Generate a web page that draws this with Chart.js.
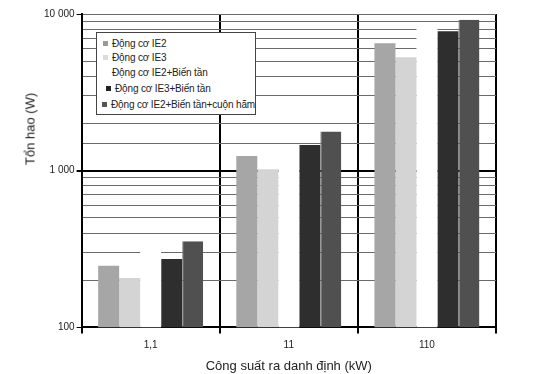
<!DOCTYPE html>
<html>
<head>
<meta charset="utf-8">
<script src="https://cdn.jsdelivr.net/npm/chart.js@4/dist/chart.umd.min.js"></script>
<style>
    body { margin: 0; background: #fff; }
    #wrap { position: relative; width: 553px; height: 374px; font-family: 'Liberation Sans', Arial, sans-serif; }
    #yTitle {
        position: absolute; left: 30px; top: 129px;
        transform: translate(-50%, -50%) rotate(-90deg);
        font-size: 13px; color: #222; white-space: nowrap;
    }
    #legend {
        position: absolute; left: 96px; top: 32px; width: 160px; height: 83px;
        background: #fff; border: 1px solid #444; box-sizing: border-box;
        font-size: 10px; letter-spacing: -0.15px; color: #222;
    }
    #legend .item { position: absolute; white-space: nowrap; line-height: 12px; }
    #legend .box { display: inline-block; width: 5px; height: 5px; margin-right: 4px; vertical-align: 1px; }
</style>
</head>
<body>
<div id="wrap">
    <canvas id="lossChart" width="553" height="374"></canvas>
    <div id="yTitle">Tổn hao (W)</div>
    <div id="legend"></div>
</div>
<script>
'use strict';

// ============================================================================
// Data
// ============================================================================

const categories = ['1,1', '11', '110'];
const seriesLabels = [
    'Động cơ IE2',
    'Động cơ IE3',
    'Động cơ IE2+Biến tần',
    'Động cơ IE3+Biến tần',
    'Động cơ IE2+Biến tần+cuộn hãm'
];
const lossIE2 = [247, 1240, 6500];
const lossIE3 = [207, 1020, 5300];
const lossIE2Vfd = [330, 1450, 8500];
const lossIE3Vfd = [273, 1460, 7750];
const lossIE2VfdChoke = [355, 1780, 9200];
const yMajorTicks = [100, 1000, 10000];

// ============================================================================
// Colors
// ============================================================================

const seriesColors = ['#a6a6a6', '#d4d4d4', '#ffffff', '#2e2e2e', '#505050'];
const legendMarkColors = ['#9a9a9a', '#dcdcdc', '#ffffff', '#222222', '#555555'];

function formatThousands(value) {
    return String(value).replace(/\B(?=(\d{3})+(?!\d))/g, ' ');
}

// ============================================================================
// Chart
// ============================================================================

const seriesValues = [lossIE2, lossIE3, lossIE2Vfd, lossIE3Vfd, lossIE2VfdChoke];

const datasets = seriesValues.map((values, i) => ({
    label: seriesLabels[i],
    data: values,
    backgroundColor: seriesColors[i],
    borderColor: i === 4 ? '#8a8a8a' : seriesColors[i],
    borderWidth: i === 4 ? { left: 1, top: 0, right: 0, bottom: 0 } : 0,
    borderSkipped: false,
    barPercentage: 1.0,
    categoryPercentage: 0.76
}));

new Chart(document.getElementById('lossChart'), {
    type: 'bar',
    data: { labels: categories, datasets: datasets },
    options: {
        responsive: false,
        animation: false,
        layout: { padding: { left: 42, right: 57, top: 14, bottom: 0 } },
        plugins: {
            legend: { display: false },
            tooltip: { enabled: false }
        },
        scales: {
            x: {
                grid: {
                    offset: true,
                    color: ctx => ctx.index === categories.length ? '#777' : '#000',
                    lineWidth: ctx => ctx.index === categories.length ? 1 : 2,
                    tickLength: 6,
                    tickColor: '#000'
                },
                border: { color: '#000', width: 2 },
                ticks: {
                    color: '#222',
                    font: { family: "'Liberation Sans', Arial, sans-serif", size: 10 },
                    padding: 6
                },
                title: {
                    display: true,
                    text: 'Công suất ra danh định (kW)',
                    color: '#222',
                    font: { family: "'Liberation Sans', Arial, sans-serif", size: 13 },
                    padding: { top: 1, bottom: 0 }
                }
            },
            y: {
                type: 'logarithmic',
                min: 100,
                max: 10000,
                grid: {
                    color: ctx => {
                        const v = ctx.tick && ctx.tick.value;
                        if (v === 1000) return '#000';
                        return '#6a6a6a';
                    },
                    lineWidth: ctx => (ctx.tick && ctx.tick.value === 1000) ? 2 : 1,
                    tickLength: 5,
                    tickColor: ctx => yMajorTicks.includes(ctx.tick && ctx.tick.value) ? '#000' : 'rgba(0,0,0,0)'
                },
                border: { color: '#000', width: 2 },
                ticks: {
                    autoSkip: false,
                    color: '#222',
                    padding: 2,
                    font: { family: "'Liberation Sans', Arial, sans-serif", size: 10 },
                    callback: value => yMajorTicks.includes(value) ? formatThousands(value) : ''
                }
            }
        }
    }
});

// ============================================================================
// Legend (drawn over the plot area like the original)
// ============================================================================

const legendRows = [
    { top: 5, left: 6 },
    { top: 19, left: 6 },
    { top: 34, left: 6 },
    { top: 50, left: 9 },
    { top: 66, left: 5 }
];

const legendEl = document.getElementById('legend');
seriesLabels.forEach((label, i) => {
    const item = document.createElement('div');
    item.className = 'item';
    item.style.top = legendRows[i].top + 'px';
    item.style.left = legendRows[i].left + 'px';
    const box = document.createElement('span');
    box.className = 'box';
    box.style.background = legendMarkColors[i];
    item.appendChild(box);
    item.appendChild(document.createTextNode(label));
    legendEl.appendChild(item);
});
</script>
</body>
</html>
